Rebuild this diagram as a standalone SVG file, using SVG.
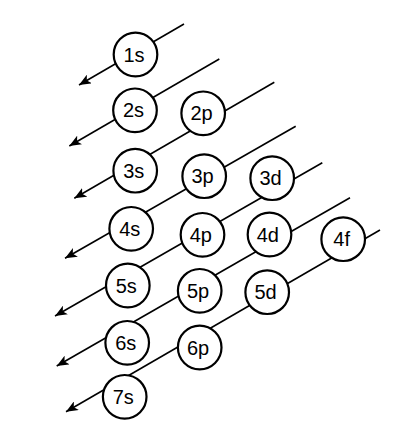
<svg xmlns="http://www.w3.org/2000/svg" width="407" height="428" viewBox="0 0 407 428">
<style>
.c{fill:#fff;stroke:#000;stroke-width:2.2}
.t{font-family:"Liberation Sans",Arial,sans-serif;font-size:20px;text-anchor:middle;fill:#000}
.l{stroke:#000;stroke-width:1.6;fill:none;marker-end:url(#ah)}
</style>
<defs>
<marker id="ah" viewBox="0 0 12 10" refX="12" refY="5" markerWidth="12" markerHeight="10" markerUnits="userSpaceOnUse" orient="auto">
<path d="M12,5 L0,0 L3,5 L0,10 Z" fill="#000"/>
</marker>
</defs>
<rect width="407" height="428" fill="#fff"/>
<g id="connectors">
<line class="l" x1="184" y1="24" x2="79" y2="85"/>
<line class="l" x1="219.3" y1="59" x2="69.3" y2="146"/>
<line class="l" x1="274.3" y1="82.3" x2="74.3" y2="198.3"/>
<line class="l" x1="295.7" y1="126.3" x2="65" y2="258.3"/>
<line class="l" x1="322.3" y1="162.7" x2="55" y2="316"/>
<line class="l" x1="350" y1="197.7" x2="56.7" y2="366"/>
<line class="l" x1="380" y1="230" x2="66" y2="411.7"/>
</g>
<g id="n1s"><circle class="c" cx="135.5" cy="54.5" r="21.8"/><text class="t" x="134" y="61.5">1s</text></g>
<g id="n2s"><circle class="c" cx="135" cy="110.3" r="21.8"/><text class="t" x="133.5" y="117.3">2s</text></g>
<g id="n2p"><circle class="c" cx="203.2" cy="113.3" r="21.8"/><text class="t" x="201.5" y="120.3">2p</text></g>
<g id="n3s"><circle class="c" cx="135.2" cy="170.7" r="21.8"/><text class="t" x="133.7" y="177.7">3s</text></g>
<g id="n3p"><circle class="c" cx="204.2" cy="176.2" r="21.8"/><text class="t" x="202.5" y="183.2">3p</text></g>
<g id="n3d"><circle class="c" cx="272.2" cy="178.2" r="21.8"/><text class="t" x="270.5" y="185.2">3d</text></g>
<g id="n4s"><circle class="c" cx="131.2" cy="228.8" r="21.8"/><text class="t" x="129.7" y="235.8">4s</text></g>
<g id="n4p"><circle class="c" cx="202.5" cy="234.8" r="21.8"/><text class="t" x="200.8" y="241.8">4p</text></g>
<g id="n4d"><circle class="c" cx="269.5" cy="234.5" r="21.8"/><text class="t" x="267.8" y="241.5">4d</text></g>
<g id="n4f"><circle class="c" cx="343.2" cy="239.2" r="21.8"/><text class="t" x="341.7" y="246.2">4f</text></g>
<g id="n5s"><circle class="c" cx="127.8" cy="285.5" r="21.8"/><text class="t" x="126.3" y="292.5">5s</text></g>
<g id="n5p"><circle class="c" cx="199.7" cy="290.8" r="21.8"/><text class="t" x="198" y="297.8">5p</text></g>
<g id="n5d"><circle class="c" cx="267.2" cy="292.2" r="21.8"/><text class="t" x="265.5" y="299.2">5d</text></g>
<g id="n6s"><circle class="c" cx="127.2" cy="342.8" r="21.8"/><text class="t" x="125.7" y="349.8">6s</text></g>
<g id="n6p"><circle class="c" cx="199.7" cy="347.5" r="21.8"/><text class="t" x="198" y="354.5">6p</text></g>
<g id="n7s"><circle class="c" cx="124.7" cy="396.8" r="21.8"/><text class="t" x="123.2" y="403.8">7s</text></g>
</svg>
